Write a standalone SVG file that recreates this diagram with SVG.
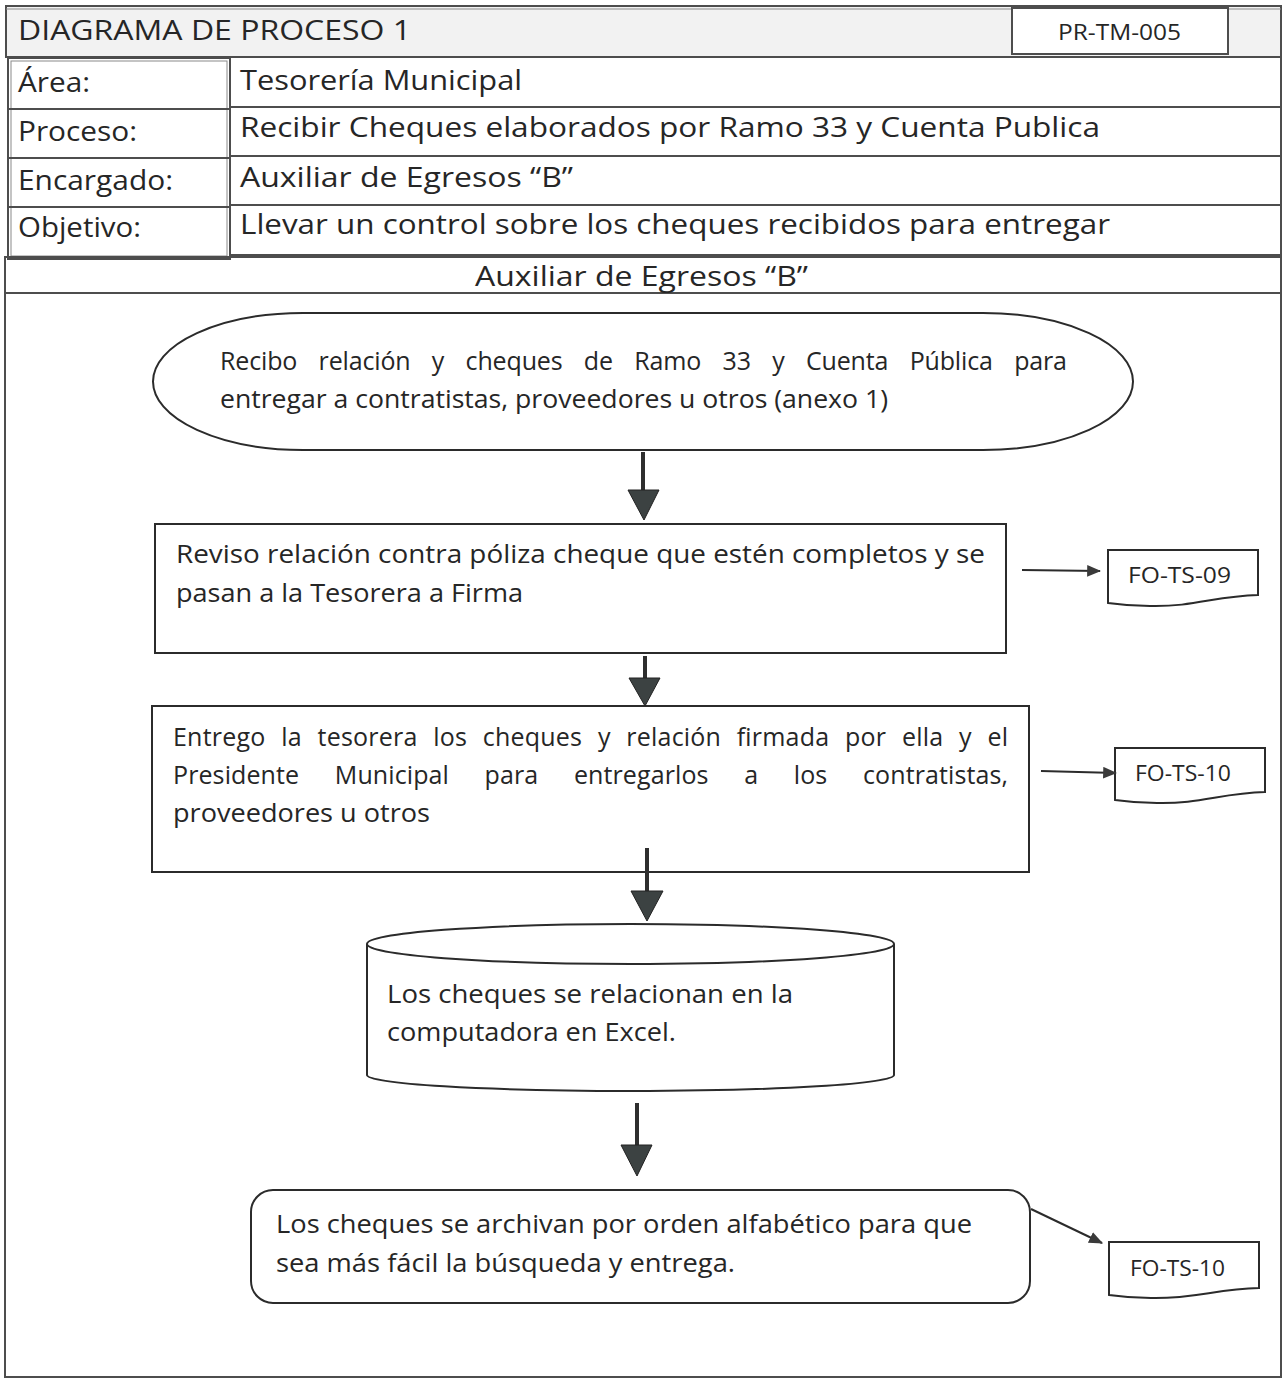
<svg xmlns="http://www.w3.org/2000/svg" width="1284" height="1380" viewBox="0 0 1284 1380">
  <style>
    .t { font-family: 'Open Sans', 'Liberation Sans', sans-serif; fill: #262626; }
    .hdr { font-size: 27px; }
    .cell { font-size: 27px; }
    .body { font-size: 25px; }
    .doc-t { font-size: 21px; }
    .grid { stroke: #4d4d4d; stroke-width: 2; }
    .grid-in { fill: none; stroke: #8a8a8a; stroke-width: 1; }
    .node { fill: #ffffff; stroke: #2b2b2b; stroke-width: 2; }
    .shaft { stroke: #2e2e2e; stroke-width: 4; fill: none; }
    .head { fill: #3c4242; stroke: #222222; stroke-width: 1; }
    .thin { stroke: #2b2b2b; stroke-width: 2; fill: none; }
  </style>
  <defs>
    <marker id="tip" viewBox="0 0 12 10" refX="11" refY="5" markerWidth="14" markerHeight="12" markerUnits="userSpaceOnUse" orient="auto">
      <path d="M0,0 L12,5 L0,10 Z" fill="#3a3a3a"/>
    </marker>
  </defs>

  <rect width="1284" height="1380" fill="#ffffff"/>

  <!-- header table -->
  <g id="header">
    <rect x="6" y="6" width="1275" height="51" fill="#f2f2f2" class="grid"/>
    <line x1="6" y1="9" x2="1281" y2="9" class="grid-in"/>
    <text class="t hdr" x="18" y="40" textLength="393" lengthAdjust="spacingAndGlyphs">DIAGRAMA DE PROCESO 1</text>
    <rect x="1012" y="8" width="216" height="46" fill="#ffffff" class="grid"/>
    <text class="t doc-t" x="1058" y="40" textLength="123" lengthAdjust="spacingAndGlyphs">PR-TM-005</text>
  </g>

  <g id="info-table">
    <!-- right value column -->
    <rect x="229" y="57" width="1052" height="198" fill="#ffffff" class="grid"/>
    <line x1="229" y1="107" x2="1281" y2="107" class="grid"/>
    <line x1="229" y1="156" x2="1281" y2="156" class="grid"/>
    <line x1="229" y1="205" x2="1281" y2="205" class="grid"/>
    <!-- left label column, double ruled -->
    <rect x="8" y="58" width="222" height="201" fill="#ffffff" class="grid"/>
    <rect x="11" y="61" width="216" height="195" class="grid-in"/>
    <line x1="8" y1="109" x2="230" y2="109" class="grid"/>
    <line x1="8" y1="158" x2="230" y2="158" class="grid"/>
    <line x1="8" y1="207" x2="230" y2="207" class="grid"/>

    <text class="t cell" x="18" y="92" textLength="72" lengthAdjust="spacingAndGlyphs">Área:</text>
    <text class="t cell" x="18" y="141" textLength="119" lengthAdjust="spacingAndGlyphs">Proceso:</text>
    <text class="t cell" x="18" y="190" textLength="155" lengthAdjust="spacingAndGlyphs">Encargado:</text>
    <text class="t cell" x="18" y="237" textLength="123" lengthAdjust="spacingAndGlyphs">Objetivo:</text>

    <text class="t cell" x="240" y="90" textLength="282" lengthAdjust="spacingAndGlyphs">Tesorería Municipal</text>
    <text class="t cell" x="240" y="137" textLength="860" lengthAdjust="spacingAndGlyphs">Recibir Cheques elaborados por Ramo 33 y Cuenta Publica</text>
    <text class="t cell" x="240" y="187" textLength="333" lengthAdjust="spacingAndGlyphs">Auxiliar de Egresos “B”</text>
    <text class="t cell" x="240" y="234" textLength="870" lengthAdjust="spacingAndGlyphs">Llevar un control sobre los cheques recibidos para entregar</text>
  </g>

  <!-- swimlane -->
  <g id="lane">
    <rect x="5" y="257" width="1276" height="1120" fill="none" class="grid"/>
    <line x1="5" y1="293" x2="1281" y2="293" class="grid"/>
    <text class="t cell" x="475" y="286" textLength="333" lengthAdjust="spacingAndGlyphs">Auxiliar de Egresos “B”</text>
  </g>

  <!-- start terminator -->
  <g id="n-recibo">
    <rect x="153" y="313" width="980" height="137" rx="150" ry="68.5" class="node"/>
    <text class="t body" x="220" y="370" word-spacing="15" textLength="847" lengthAdjust="spacing">Recibo relación y cheques de Ramo 33 y Cuenta Pública para</text>
    <text class="t body" x="220" y="408" textLength="668" lengthAdjust="spacingAndGlyphs">entregar a contratistas, proveedores u otros (anexo 1)</text>
  </g>

  <!-- review step -->
  <g id="n-reviso">
    <rect x="155" y="524" width="851" height="129" class="node"/>
    <text class="t body" x="176" y="563" textLength="809" lengthAdjust="spacingAndGlyphs">Reviso relación contra póliza cheque que estén completos y se</text>
    <text class="t body" x="176" y="602" textLength="347" lengthAdjust="spacingAndGlyphs">pasan a la Tesorera a Firma</text>
  </g>

  <g id="d-fo-ts-09">
    <path d="M1108,550 H1258 V595 C1215,596 1195,607 1150,606 C1130,606 1115,604 1108,603 Z" class="node"/>
    <text class="t doc-t" x="1128" y="583" textLength="103" lengthAdjust="spacingAndGlyphs">FO-TS-09</text>
  </g>

  <!-- delivery step -->
  <g id="n-entrego">
    <rect x="152" y="706" width="877" height="166" class="node"/>
    <text class="t body" x="173" y="746" word-spacing="9" textLength="835" lengthAdjust="spacing">Entrego la tesorera los cheques y relación firmada por ella y el</text>
    <text class="t body" x="173" y="784" word-spacing="29" textLength="835" lengthAdjust="spacing">Presidente Municipal para entregarlos a los contratistas,</text>
    <text class="t body" x="173" y="822" textLength="257" lengthAdjust="spacingAndGlyphs">proveedores u otros</text>
  </g>

  <g id="d-fo-ts-10a">
    <path d="M1115,748 H1265 V792 C1222,793 1200,804 1157,803 C1137,803 1122,801 1115,800 Z" class="node"/>
    <text class="t doc-t" x="1135" y="781" textLength="96" lengthAdjust="spacingAndGlyphs">FO-TS-10</text>
  </g>

  <!-- data store -->
  <g id="n-excel">
    <path d="M367,944 A263.5,20 0 0 1 894,944 V1075 A263.5,16 0 0 1 367,1075 Z" class="node"/>
    <path d="M367,944 A263.5,20 0 0 0 894,944" class="thin"/>
    <text class="t body" x="387" y="1003" textLength="406" lengthAdjust="spacingAndGlyphs">Los cheques se relacionan en la</text>
    <text class="t body" x="387" y="1041" textLength="289" lengthAdjust="spacingAndGlyphs">computadora en Excel.</text>
  </g>

  <!-- filing step -->
  <g id="n-archivo">
    <rect x="251" y="1190" width="779" height="113" rx="22" ry="22" class="node"/>
    <text class="t body" x="276" y="1233" textLength="696" lengthAdjust="spacingAndGlyphs">Los cheques se archivan por orden alfabético para que</text>
    <text class="t body" x="276" y="1272" textLength="459" lengthAdjust="spacingAndGlyphs">sea más fácil la búsqueda y entrega.</text>
  </g>

  <g id="d-fo-ts-10b">
    <path d="M1109,1242 H1259 V1288 C1216,1289 1194,1299 1151,1298 C1131,1298 1116,1296 1109,1295 Z" class="node"/>
    <text class="t doc-t" x="1130" y="1276" textLength="95" lengthAdjust="spacingAndGlyphs">FO-TS-10</text>
  </g>

  <!-- connectors -->
  <g id="connectors">
    <line x1="643" y1="452" x2="643" y2="492" class="shaft"/>
    <polygon points="628,490 659,490 644,520" class="head"/>

    <line x1="645" y1="656" x2="645" y2="680" class="shaft"/>
    <polygon points="629,678 660,678 645,706" class="head"/>

    <line x1="647" y1="848" x2="647" y2="893" class="shaft"/>
    <polygon points="631,891 663,891 647,921" class="head"/>

    <line x1="637" y1="1103" x2="637" y2="1147" class="shaft"/>
    <polygon points="621,1145 652,1145 637,1176" class="head"/>

    <line x1="1022" y1="570" x2="1100" y2="571" class="thin" marker-end="url(#tip)"/>
    <line x1="1041" y1="771" x2="1116" y2="773" class="thin" marker-end="url(#tip)"/>
    <line x1="1031" y1="1209" x2="1102" y2="1243" class="thin" marker-end="url(#tip)"/>
  </g>
</svg>
